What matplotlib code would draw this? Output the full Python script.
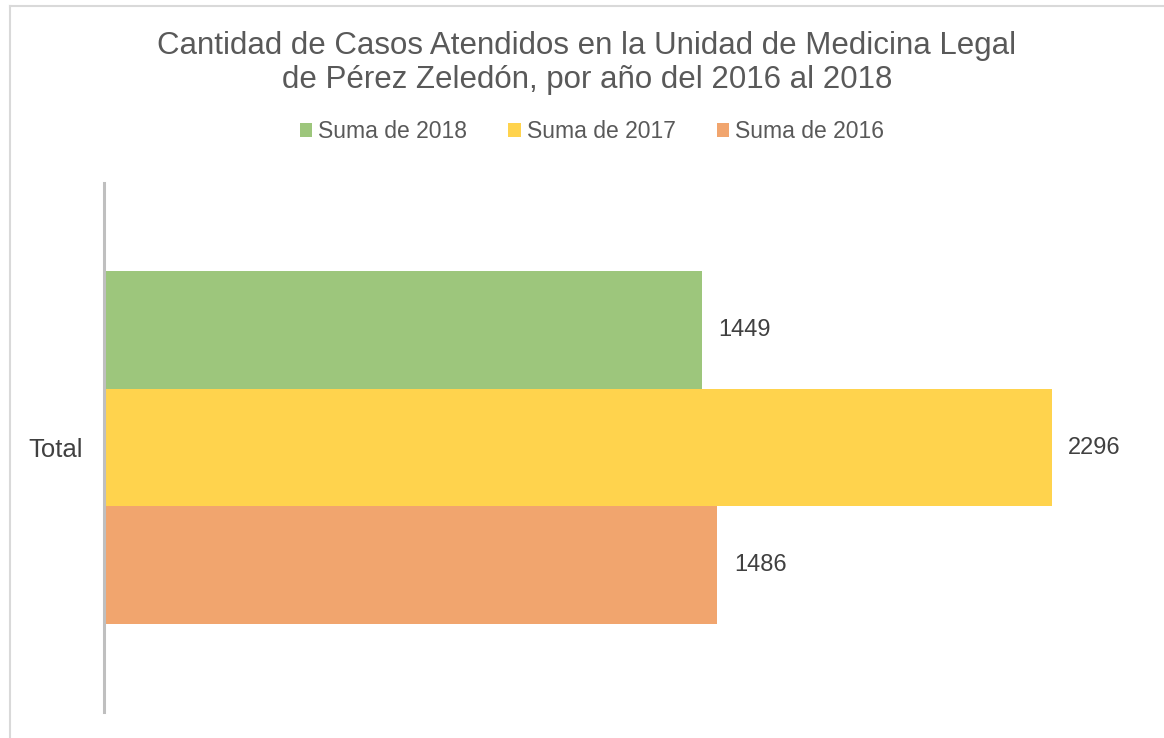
import matplotlib
matplotlib.use("Agg")
import matplotlib.pyplot as plt
from matplotlib.lines import Line2D
from matplotlib.patches import Patch

plt.rcParams['font.family'] = ['Liberation Sans', 'DejaVu Sans']

categories = ["Total"]
series_names = ["Suma de 2018", "Suma de 2017", "Suma de 2016"]
values = [1449, 2296, 1486]
colors = ["#9DC67C", "#FFD34D", "#F1A56E"]

W, H = 1164, 738
fig = plt.figure(figsize=(W / 100, H / 100), dpi=100)
fig.patch.set_facecolor("white")

ax = fig.add_axes([104 / W, 1 - 712 / H, (1136 - 104) / W, (712 - 183) / H])

h = 1 / 1.5 / 3
offsets = [h, 0, -h]
for name, v, c, off in zip(series_names, values, colors, offsets):
    ax.barh(0 + off, v, height=h, color=c, label=name)
    ax.text(v + 40, off, f"{v}", va="center", ha="left", fontsize=17, color="#404040")

ax.set_xlim(0, 2500)
ax.set_ylim(-0.5, 0.5)
ax.set_yticks([0])
ax.set_yticklabels(categories, fontsize=18.5, color="#404040")
ax.tick_params(axis="y", length=0, pad=15)
ax.set_xticks([])
for s in ["top", "right", "bottom"]:
    ax.spines[s].set_visible(False)
ax.spines["left"].set_color("#BFBFBF")
ax.spines["left"].set_linewidth(2.2)

fig.text(587 / W, 1 - 63 / H, "Cantidad de Casos Atendidos en la Unidad de Medicina Legal\nde Pérez Zeledón, por año del 2016 al 2018",
         ha="center", va="center", fontsize=22.5, color="#595959", linespacing=1.15)

handles = [Patch(facecolor=c, edgecolor="none") for c in colors]
fig.legend(handles, series_names, loc="center", bbox_to_anchor=(592 / W, 1 - 132 / H),
           ncol=3, frameon=False, fontsize=16.5, handlelength=0.55, handleheight=0.55,
           handletextpad=0.25, columnspacing=1.8, labelcolor="#595959")

# chart border
fig.add_artist(Line2D([9.5 / W, 9.5 / W], [0, 1 - 6 / H], color="#D9D9D9", lw=1.5))
fig.add_artist(Line2D([9.5 / W, 1], [1 - 6 / H, 1 - 6 / H], color="#D9D9D9", lw=1.5))

fig.savefig("out.png", dpi=100, facecolor="white")
